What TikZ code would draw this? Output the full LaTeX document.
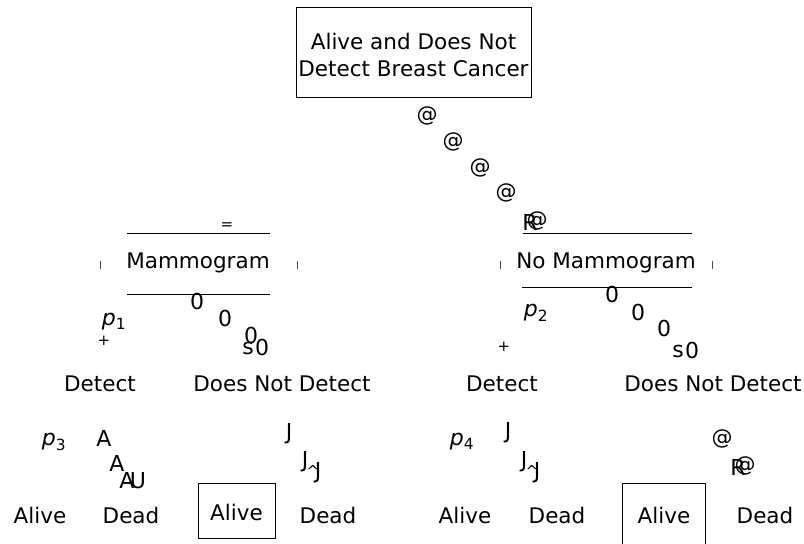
\documentclass[tikz,border=0pt]{standalone}
\usepackage{fontspec}
\setmainfont{DejaVu Sans}
\begin{document}
\begin{tikzpicture}[x=1pt,y=-1pt,
  lbl/.style={font=\fontsize{21.5}{27}\selectfont, inner sep=0pt},
  glyph/.style={font=\fontsize{22}{26}\selectfont, inner sep=0pt},
  small/.style={font=\fontsize{21}{24}\selectfont, inner sep=0pt},
  tiny/.style={font=\fontsize{15}{18}\selectfont, inner sep=0pt},
  prob/.style={font=\fontsize{22}{27}\selectfont\itshape, inner sep=0pt},
  boxed/.style={draw, line width=0.9pt},
  rule/.style={line width=0.9pt},
  tick/.style={line width=1pt, draw=black!70}]
\useasboundingbox (0,0) rectangle (804,544);
% root
\node[boxed, minimum width=235pt, minimum height=90pt, inner sep=0pt] (root) at (413.5,52) {};
\node[lbl, align=center] (roottxt) at (413.5,55) {Alive and Does Not\\Detect Breast Cancer};
% @ chain
\node[small] (a1) at (427,116) {@};
\node[small] (a2) at (453,142) {@};
\node[small] (a3) at (480,168) {@};
\node[small] (a4) at (506,193) {@};
\node[glyph] (r1) at (530,222) {R};
\node[small] (a5) at (537,221) {@};
% Mammogram
\node[tiny] (eq) at (227,226) {=};
\coordinate (ml1) at (127,233); \coordinate (mr1) at (270,233);
\coordinate (ml2) at (127,294); \coordinate (mr2) at (270,294);
\draw[rule] (ml1) -- (mr1);
\draw[rule] (ml2) -- (mr2);
\node[lbl] (mam) at (198,263) {Mammogram};
\coordinate (t1a) at (100,261); \coordinate (t1b) at (100,269);
\coordinate (t2a) at (297,261); \coordinate (t2b) at (297,269);
\draw[tick] (t1a) -- (t1b);
\draw[tick] (t2a) -- (t2b);
% No Mammogram
\coordinate (nl1) at (523,233); \coordinate (nr1) at (692,233);
\coordinate (nl2) at (522,287); \coordinate (nr2) at (692,287);
\draw[rule] (nl1) -- (nr1);
\draw[rule] (nl2) -- (nr2);
\node[lbl] (nomam) at (606,263) {No Mammogram};
\coordinate (t3a) at (500,261); \coordinate (t3b) at (500,269);
\coordinate (t4a) at (712,261); \coordinate (t4b) at (712,269);
\draw[tick] (t3a) -- (t3b);
\draw[tick] (t4a) -- (t4b);
% left branch glyphs
\node[prob] (p1) at (114,322) {p\textsubscript{\upshape 1}};
\node[tiny] (pl1) at (104,341) {+};
\node[glyph] (z1) at (197,301) {0};
\node[glyph] (z2) at (225,318) {0};
\node[glyph] (z3) at (251,335) {0};
\node[glyph] (s1) at (248,348) {s};
\node[glyph] (z4) at (262,347) {0};
% right branch glyphs
\node[prob] (p2) at (536,313) {p\textsubscript{\upshape 2}};
\node[tiny] (pl2) at (504,347) {+};
\node[glyph] (z5) at (612,294) {0};
\node[glyph] (z6) at (638,312) {0};
\node[glyph] (z7) at (664,328) {0};
\node[glyph] (s2) at (678,351) {s};
\node[glyph] (z8) at (692,350) {0};
% detect labels
\node[lbl] (d1) at (100,384) {Detect};
\node[lbl] (nd1) at (282,384) {Does Not Detect};
\node[lbl] (d2) at (502,384) {Detect};
\node[lbl] (nd2) at (713,384) {Does Not Detect};
% bottom left glyphs
\node[prob] (p3) at (54,442) {p\textsubscript{\upshape 3}};
\node[glyph] (A1) at (104,438) {A};
\node[glyph] (A2) at (117,463) {A};
\node[glyph] (A3) at (127,480) {A};
\node[glyph] (U1) at (138,481) {U};
\node[glyph] (J1) at (289,434) {J};
\node[glyph] (J2) at (305,462) {J};
\node[tiny] (c1) at (313,471) {\^{}};
\node[glyph] (J3) at (318,473) {J};
% bottom right glyphs
\node[prob] (p4) at (462,442) {p\textsubscript{\upshape 4}};
\node[glyph] (J4) at (508,433) {J};
\node[glyph] (J5) at (524,462) {J};
\node[tiny] (c2) at (532,471) {\^{}};
\node[glyph] (J6) at (537,473) {J};
\node[small] (a6) at (722,439) {@};
\node[glyph] (r2) at (738,467) {R};
\node[small] (a7) at (745,466) {@};
% leaves
\node[lbl] (al1) at (40,515) {Alive};
\node[lbl] (de1) at (131,515) {Dead};
\node[boxed, minimum width=77pt, minimum height=55pt, inner sep=0pt] (box1) at (236.5,510.5) {};
\node[lbl] (al2) at (236.5,512) {Alive};
\node[lbl] (de2) at (328,515) {Dead};
\node[lbl] (al3) at (465,515) {Alive};
\node[lbl] (de3) at (557,515) {Dead};
\node[boxed, minimum width=83pt, minimum height=62pt, inner sep=0pt] (box2) at (664,514) {};
\node[lbl] (al4) at (664,515) {Alive};
\node[lbl] (de4) at (765,515) {Dead};
\end{tikzpicture}
\end{document}
